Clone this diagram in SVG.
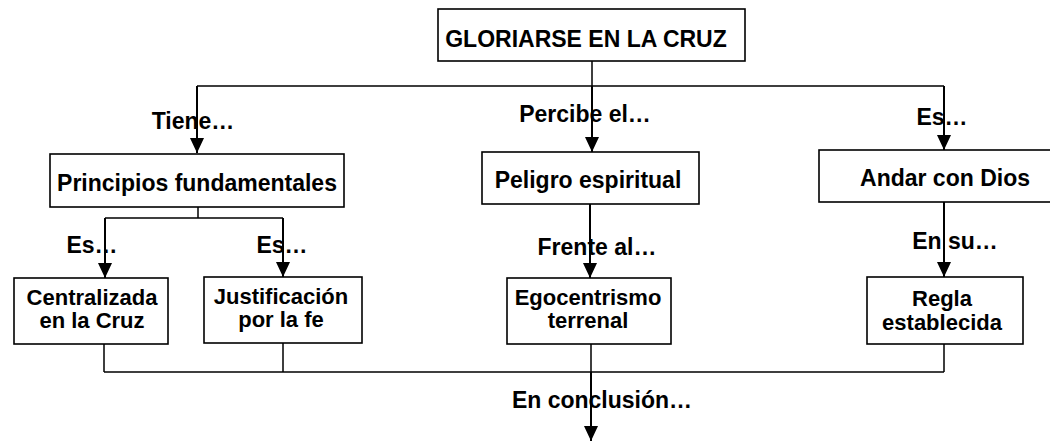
<svg xmlns="http://www.w3.org/2000/svg" width="1050" height="441" viewBox="0 0 1050 441">
<style>
.box{fill:#fff;stroke:#000;stroke-width:1.6}
.t{font-family:"Liberation Sans",Arial,sans-serif;font-weight:bold;font-size:23px;fill:#000;text-anchor:middle}
.t2{font-size:22px}
.ln{fill:none;stroke:#000;stroke-width:1.5}
.ar{fill:none;stroke:#000;stroke-width:2;marker-end:url(#ah)}
</style>
<defs>
<marker id="ah" markerUnits="userSpaceOnUse" markerWidth="15" markerHeight="14" refX="15" refY="7" orient="auto" viewBox="0 0 15 14">
<path d="M0,0 L15,7 L0,14 Z" fill="#000"/>
</marker>
</defs>
<g id="connectors">
<path class="ln" d="M592,61 V86 M197,86 H944"/>
<path class="ar" d="M197,86 V153"/>
<path class="ar" d="M592,86 V152"/>
<path class="ar" d="M944,86 V150"/>
<path class="ln" d="M198,207 V218 M105,218 H283"/>
<path class="ar" d="M105,218 V278"/>
<path class="ar" d="M283,218 V277"/>
<path class="ar" d="M590,204 V278"/>
<path class="ar" d="M944,202 V277"/>
<path class="ln" d="M104,344 V372 M283,343 V372 M591,344 V372 M944,344 V372 M104,372 H944"/>
<path class="ar" d="M591,372 V441"/>
</g>
<g id="n-title"><rect class="box" x="438" y="9" width="307" height="52"/><text class="t" x="586" y="47" font-size="21.5">GLORIARSE EN LA CRUZ</text></g>
<g id="l-tiene"><text class="t" x="193" y="129">Tiene…</text></g>
<g id="l-percibe"><text class="t" x="585" y="122">Percibe el…</text></g>
<g id="l-es1"><text class="t" x="942" y="125">Es…</text></g>
<g id="n-principios"><rect class="box" x="50" y="154" width="294" height="53"/><text class="t" x="197" y="191">Principios fundamentales</text></g>
<g id="n-peligro"><rect class="box" x="482" y="152" width="217" height="52"/><text class="t" x="588" y="188">Peligro espiritual</text></g>
<g id="n-andar"><rect class="box" x="819" y="150" width="233" height="52"/><text class="t" x="945" y="186">Andar con Dios</text></g>
<g id="l-es2"><text class="t" x="92" y="253">Es…</text></g>
<g id="l-es3"><text class="t" x="282" y="253">Es…</text></g>
<g id="l-frente"><text class="t" x="597" y="255">Frente al…</text></g>
<g id="l-ensu"><text class="t" x="955" y="249">En su…</text></g>
<g id="n-centralizada"><rect class="box" x="14" y="278" width="154" height="66"/><text class="t t2" x="92" y="305">Centralizada</text><text class="t t2" x="92" y="328">en la Cruz</text></g>
<g id="n-justificacion"><rect class="box" x="204" y="277" width="158" height="66"/><text class="t t2" x="281" y="304">Justificación</text><text class="t t2" x="281" y="327">por la fe</text></g>
<g id="n-ego"><rect class="box" x="507" y="278" width="164" height="66"/><text class="t t2" x="588" y="305">Egocentrismo</text><text class="t t2" x="588" y="328">terrenal</text></g>
<g id="n-regla"><rect class="box" x="867" y="277" width="156" height="67"/><text class="t t2" x="942" y="306">Regla</text><text class="t t2" x="942" y="330">establecida</text></g>
<g id="l-conclusion"><text class="t" x="602" y="408">En conclusión…</text></g>
</svg>
